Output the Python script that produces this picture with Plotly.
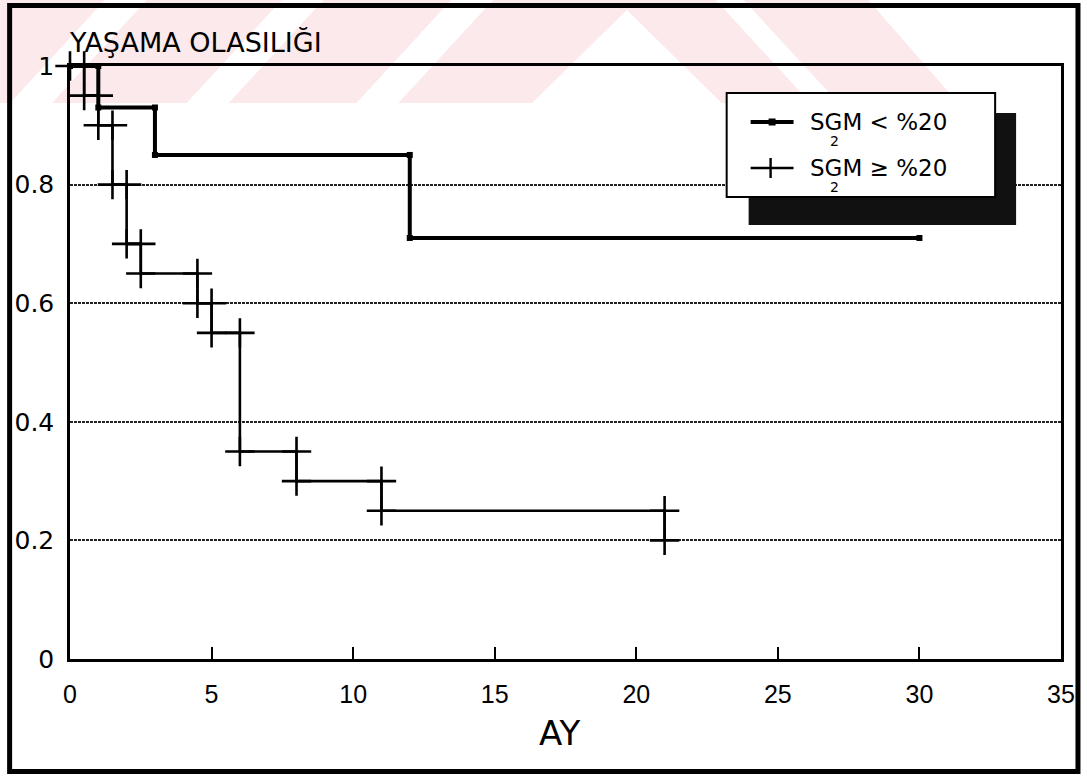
import plotly.graph_objects as go

# Survival data (months, survival probability)
months_lo = [1, 3, 12]
surv_lo = [0.93, 0.85, 0.71]
last_lo = 30

months_hi = [0.5, 1, 1.5, 2, 2.5, 4.5, 5, 6, 8, 11, 21]
surv_hi = [0.95, 0.90, 0.80, 0.70, 0.65, 0.60, 0.55, 0.35, 0.30, 0.25, 0.20]
last_hi = 21

x_ticks = [0, 5, 10, 15, 20, 25, 30, 35]
y_ticks = [0, 0.2, 0.4, 0.6, 0.8, 1]
y_ticktext = ["0", "0.2", "0.4", "0.6", "0.8", "1"]

FONT = "DejaVu Sans, Verdana, sans-serif"
FONT_X = "Liberation Sans, Arial, sans-serif"

W, H = 1087, 776
ML, MR, MT, MB = 70, 24, 66, 117
PW, PH = W - ML - MR, H - MT - MB


def step_path(times, surv, last):
    xs, ys = [0], [1.0]
    prev = 1.0
    for t, s in zip(times, surv):
        xs += [t, t]
        ys += [prev, s]
        prev = s
    if last > times[-1]:
        xs.append(last)
        ys.append(prev)
    return xs, ys


def px(xp):
    return (xp - ML) / PW


def py(yp):
    return (MT + PH - yp) / PH


def poly(points):
    return "M " + " L ".join(f"{px(a):.5f},{py(b):.5f}" for a, b in points) + " Z"


fig = go.Figure()

xh, yh = step_path(months_hi, surv_hi, last_hi)
fig.add_trace(go.Scatter(
    x=xh, y=yh, mode="lines+markers", cliponaxis=False,
    line=dict(color="black", width=2.6),
    marker=dict(symbol="cross-thin", size=21, line=dict(color="black", width=2.6)),
    showlegend=False,
))

xl, yl = step_path(months_lo, surv_lo, last_lo)
fig.add_trace(go.Scatter(
    x=xl, y=yl, mode="lines+markers", cliponaxis=False,
    line=dict(color="black", width=4),
    marker=dict(symbol="square", size=6, color="black"),
    showlegend=False,
))

shapes = []

# faint striped band across the top of the page
pink = "#fce9ec"
shapes.append(dict(type="path", layer="below", xref="paper", yref="paper",
                   path=poly([(0, 0), (870, 0), (960, 103), (0, 103)]),
                   fillcolor=pink, line=dict(width=0)))
for b0 in [-160, 10, 187, 357]:
    shapes.append(dict(type="path", layer="below", xref="paper", yref="paper",
                       path=poly([(b0 + 95, 0), (b0 + 137, 0), (b0 + 42, 103), (b0, 103)]),
                       fillcolor="white", line=dict(width=0)))
shapes.append(dict(type="path", layer="below", xref="paper", yref="paper",
                   path=poly([(533, 103), (628, 10), (723, 103)]),
                   fillcolor="white", line=dict(width=0)))
shapes.append(dict(type="path", layer="below", xref="paper", yref="paper",
                   path=poly([(717, 0), (745, 0), (840, 103), (812, 103)]),
                   fillcolor="white", line=dict(width=0)))

# outer page frame
shapes.append(dict(type="rect", xref="paper", yref="paper",
                   x0=px(9.5), x1=px(1080), y0=py(771.5), y1=py(5.5),
                   line=dict(color="black", width=5)))

# legend box with drop shadow
shapes.append(dict(type="rect", layer="above", xref="paper", yref="paper",
                   x0=px(750), x1=px(1018), y0=py(225), y1=py(113),
                   fillcolor="#111111", line=dict(width=0)))
shapes.append(dict(type="rect", layer="above", xref="paper", yref="paper",
                   x0=px(728), x1=px(997), y0=py(197), y1=py(93),
                   fillcolor="white", line=dict(color="black", width=2)))
# legend samples
shapes.append(dict(type="line", layer="above", xref="paper", yref="paper",
                   x0=px(752), x1=px(795), y0=py(122), y1=py(122),
                   line=dict(color="black", width=4)))
shapes.append(dict(type="rect", layer="above", xref="paper", yref="paper",
                   x0=px(770), x1=px(777), y0=py(125.5), y1=py(118.5),
                   fillcolor="black", line=dict(width=0)))
shapes.append(dict(type="line", layer="above", xref="paper", yref="paper",
                   x0=px(752), x1=px(795), y0=py(168), y1=py(168),
                   line=dict(color="black", width=2.4)))
shapes.append(dict(type="line", layer="above", xref="paper", yref="paper",
                   x0=px(772), x1=px(772), y0=py(158), y1=py(178),
                   line=dict(color="black", width=2.4)))

annotations = [
    dict(text="YAŞAMA OLASILIĞI", x=px(67), y=py(42), xanchor="left", yanchor="middle",
         font=dict(size=27, family=FONT, color="black")),
    dict(text="AY", x=px(561), y=py(733), xanchor="center", yanchor="middle",
         font=dict(size=34, family=FONT, color="black")),
    dict(text="SGM &lt; %20", x=px(809), y=py(122), xanchor="left", yanchor="middle",
         font=dict(size=23, family=FONT, color="black")),
    dict(text="2", x=px(836), y=py(141), xanchor="center", yanchor="middle",
         font=dict(size=14, family=FONT, color="black")),
    dict(text="SGM ≥ %20", x=px(809), y=py(168), xanchor="left", yanchor="middle",
         font=dict(size=23, family=FONT, color="black")),
    dict(text="2", x=px(836), y=py(187), xanchor="center", yanchor="middle",
         font=dict(size=14, family=FONT, color="black")),
]
for a in annotations:
    a.update(xref="paper", yref="paper", showarrow=False)

fig.update_layout(
    width=W, height=H,
    margin=dict(l=ML, r=MR, t=MT, b=MB),
    paper_bgcolor="white", plot_bgcolor="white",
    font=dict(family=FONT, color="black"),
    shapes=shapes, annotations=annotations,
    showlegend=False,
)

fig.update_xaxes(
    range=[0, 35], tickvals=x_ticks, ticks="inside", ticklen=12, tickwidth=2,
    tickcolor="black", showline=True, linecolor="black", linewidth=3, mirror=True,
    showgrid=False, zeroline=False, tickfont=dict(size=25, family=FONT_X),
    ticklabelstandoff=11,
)
fig.update_yaxes(
    range=[0, 1], tickvals=y_ticks, ticktext=y_ticktext, ticks="",
    showline=True, linecolor="black", linewidth=2.5, mirror=True,
    showgrid=True, gridcolor="#222222", gridwidth=1.5, griddash="3px,1px",
    zeroline=False, tickfont=dict(size=25, family=FONT), ticklabelstandoff=8,
)

fig.write_html("out.html")
